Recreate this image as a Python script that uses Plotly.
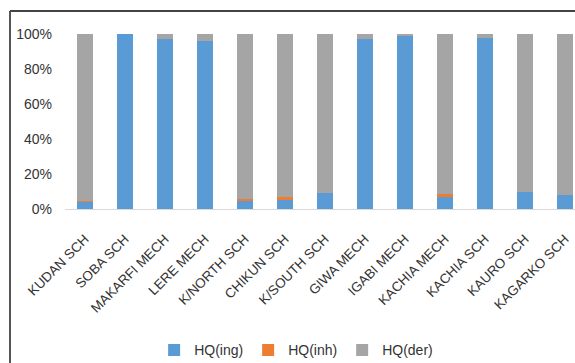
import plotly.graph_objects as go

categories = ["KUDAN SCH", "SOBA SCH", "MAKARFI MECH", "LERE MECH", "K/NORTH SCH",
              "CHIKUN SCH", "K/SOUTH SCH", "GIWA MECH", "IGABI MECH", "KACHIA MECH",
              "KACHIA SCH", "KAURO SCH", "KAGARKO SCH"]
hq_ing = [4, 100, 97, 96, 5, 5, 9, 97, 99, 7, 98, 10, 8]
hq_inh = [0.5, 0, 0, 0, 0.5, 2, 0, 0, 0, 1.5, 0, 0, 0]
hq_der = [95.5, 0, 3, 4, 94.5, 93, 91, 3, 1, 91.5, 2, 90, 92]

W, H = 575, 363
ML, MR, MT, MB = 65, 0, 34, 154

fig = go.Figure()
for name, vals, color in [("HQ(ing)", hq_ing, "#5B9BD5"),
                          ("HQ(inh)", hq_inh, "#ED7D31"),
                          ("HQ(der)", hq_der, "#A5A5A5")]:
    fig.add_trace(go.Bar(x=categories, y=vals, name=name, marker_color=color,
                         marker_line_width=0))

pw = W - ML - MR
ph = H - MT - MB
# outer chart frame: left and top edges
frame_top = 1 + (MT - 11) / ph
frame_left = (10 - ML) / pw
fig.add_shape(type="line", xref="paper", yref="paper",
              x0=frame_left, x1=frame_left, y0=frame_top, y1=-(MB + 5) / ph,
              line=dict(color="#555555", width=2))
fig.add_shape(type="line", xref="paper", yref="paper",
              x0=frame_left, x1=(W - ML + 5) / pw, y0=frame_top, y1=frame_top,
              line=dict(color="#444444", width=2))

fig.update_layout(
    barmode="stack",
    barnorm="percent",
    bargap=0.61,
    width=W, height=H,
    margin=dict(l=ML, r=MR, t=MT, b=MB),
    plot_bgcolor="white", paper_bgcolor="white",
    font=dict(family="Liberation Sans", size=14, color="#333333"),
    showlegend=True,
    legend=dict(orientation="h", xref="container", yref="container",
                x=0.515, xanchor="center", y=0.035, yanchor="middle",
                font=dict(size=14, color="#333333"),
                itemwidth=30, traceorder="normal"),
    xaxis=dict(tickangle=-45, showline=True, linecolor="#d9d9d9", linewidth=1,
               range=[-0.5, 12.25], ticks="", ticklabelstandoff=16,
               tickfont=dict(size=13.5, color="#333333")),
    yaxis=dict(range=[0, 100], tickvals=[0, 20, 40, 60, 80, 100],
               ticktext=["0%", "20%", "40%", "60%", "80%", "100%"],
               showgrid=False, zeroline=False, showline=False,
               ticklabelstandoff=12,
               tickfont=dict(size=14, color="#333333")),
)

fig.write_html("out.html")
